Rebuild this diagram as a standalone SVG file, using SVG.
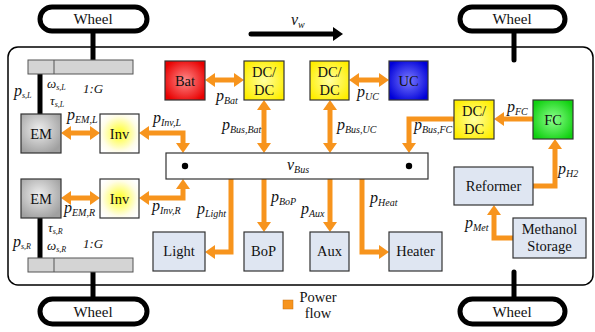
<svg xmlns="http://www.w3.org/2000/svg" width="595" height="332" viewBox="0 0 595 332">
<style>
.box{stroke:#333;stroke-width:1.2}
.lb{fill:#dfe6f2}
.nt{font-family:"Liberation Serif",serif;font-size:14.5px;fill:#111;text-anchor:middle}
.wt{font-family:"Liberation Serif",serif;font-size:15px;fill:#111;text-anchor:middle}
.lab{font-family:"Liberation Serif",serif;font-style:italic;font-size:16px;fill:#111}
.sm{font-family:"Liberation Serif",serif;font-style:italic;font-size:13px;fill:#111}
.sub{font-size:10px}
.sub2{font-size:8px}
.pf{fill:none;stroke:#f7941d;stroke-width:5;stroke-linejoin:miter}
.shaft{stroke:#000;stroke-width:5;fill:none}
.wheel{fill:#fff;stroke:#000;stroke-width:5}
.gear{fill:#d4d4d4;stroke:#555;stroke-width:1}
</style>
<defs>
<marker id="ah" markerUnits="userSpaceOnUse" markerWidth="11" markerHeight="14" refX="0" refY="7" orient="auto-start-reverse" overflow="visible">
<path d="M0,0 L10,7 L0,14 z" fill="#f7941d"/>
</marker>
<marker id="bh" markerUnits="userSpaceOnUse" markerWidth="11" markerHeight="14" refX="0" refY="7" orient="auto" overflow="visible">
<path d="M0,0 L10,7 L0,14 z" fill="#000"/>
</marker>
<radialGradient id="gRed" cx="50%" cy="50%" r="60%"><stop offset="0" stop-color="#ff8a8a"/><stop offset="1" stop-color="#e80000"/></radialGradient>
<radialGradient id="gBlue" cx="50%" cy="50%" r="60%"><stop offset="0" stop-color="#7a7aff"/><stop offset="1" stop-color="#0000d8"/></radialGradient>
<radialGradient id="gGreen" cx="50%" cy="50%" r="60%"><stop offset="0" stop-color="#8cff8c"/><stop offset="1" stop-color="#10d010"/></radialGradient>
<radialGradient id="gDC" cx="50%" cy="50%" r="60%"><stop offset="0" stop-color="#ffffa0"/><stop offset="1" stop-color="#ffee00"/></radialGradient>
<radialGradient id="gInv" cx="50%" cy="50%" r="60%"><stop offset="0" stop-color="#ffff20"/><stop offset="0.75" stop-color="#fffde8"/><stop offset="1" stop-color="#ffffff"/></radialGradient>
<radialGradient id="gEM" cx="45%" cy="40%" r="65%"><stop offset="0" stop-color="#eeeeee"/><stop offset="1" stop-color="#a0a0a0"/></radialGradient>
</defs>

<!-- vehicle body -->
<rect x="8" y="47" width="585" height="238" rx="10" fill="#fff" stroke="#000" stroke-width="1.5"/>

<!-- velocity arrow -->
<g id="velocity">
<line x1="251" y1="34" x2="333" y2="34" stroke="#000" stroke-width="5" stroke-linecap="round" marker-end="url(#bh)"/>
<text class="lab" x="291" y="25">v<tspan class="sub" dy="3">w</tspan></text>
</g>

<!-- mechanical parts -->
<g id="mechanics">
<line class="shaft" x1="93" y1="31" x2="93" y2="60"/>
<line class="shaft" x1="40" y1="74" x2="40" y2="114"/>
<line class="shaft" x1="40" y1="218" x2="40" y2="258"/>
<line class="shaft" x1="93" y1="272" x2="93" y2="299"/>
<line class="shaft" x1="514" y1="31" x2="514" y2="60" stroke-linecap="round"/>
<line class="shaft" x1="514" y1="272" x2="514" y2="299" stroke-linecap="round"/>
<rect class="gear" x="28" y="60" width="105" height="14"/>
<line x1="54" y1="60" x2="54" y2="74" stroke="#555" stroke-width="1"/>
<rect class="gear" x="28" y="258" width="105" height="14"/>
<line x1="54" y1="258" x2="54" y2="272" stroke="#555" stroke-width="1"/>
<text class="sm" x="83" y="93" font-size="15">1:G</text>
<text class="sm" x="83" y="248" font-size="15">1:G</text>
<text class="lab" x="14" y="96" font-size="15">p<tspan class="sub2" dy="2">s,L</tspan></text>
<text class="sm" x="47" y="88">ω<tspan class="sub2" dy="2">s,L</tspan></text>
<text class="sm" x="50" y="105">τ<tspan class="sub2" dy="2">s,L</tspan></text>
<text class="sm" x="48" y="232">τ<tspan class="sub2" dy="2">s,R</tspan></text>
<text class="lab" x="13" y="247" font-size="15">p<tspan class="sub2" dy="2">s,R</tspan></text>
<text class="sm" x="47" y="250">ω<tspan class="sub2" dy="2">s,R</tspan></text>
</g>

<!-- wheels -->
<g id="wheel-fl"><rect class="wheel" x="40" y="7" width="107" height="24" rx="12"/><text class="wt" x="93" y="24">Wheel</text></g>
<g id="wheel-fr"><rect class="wheel" x="460" y="7" width="105" height="24" rx="12"/><text class="wt" x="512" y="24">Wheel</text></g>
<g id="wheel-rl"><rect class="wheel" x="40" y="299" width="107" height="25" rx="12.5"/><text class="wt" x="93" y="317">Wheel</text></g>
<g id="wheel-rr"><rect class="wheel" x="460" y="299" width="105" height="25" rx="12.5"/><text class="wt" x="512" y="317">Wheel</text></g>

<!-- connectors -->
<g id="connectors">
<path class="pf" d="M71,133 H90" marker-start="url(#ah)" marker-end="url(#ah)"/>
<path class="pf" d="M149,133 H183 V143" marker-start="url(#ah)" marker-end="url(#ah)"/>
<path class="pf" d="M71,198 H90" marker-start="url(#ah)" marker-end="url(#ah)"/>
<path class="pf" d="M149,198 H183 V189" marker-start="url(#ah)" marker-end="url(#ah)"/>
<path class="pf" d="M215,80 H234" marker-start="url(#ah)" marker-end="url(#ah)"/>
<path class="pf" d="M359,80 H379" marker-start="url(#ah)" marker-end="url(#ah)"/>
<path class="pf" d="M264,110 V143" marker-start="url(#ah)" marker-end="url(#ah)"/>
<path class="pf" d="M330,110 V143" marker-start="url(#ah)" marker-end="url(#ah)"/>
<path class="pf" d="M533,119 H504" marker-end="url(#ah)"/>
<path class="pf" d="M454,119 H409 V143" marker-end="url(#ah)"/>
<path class="pf" d="M533,186 H555 V149" marker-end="url(#ah)"/>
<path class="pf" d="M513,238 H494 V215" marker-end="url(#ah)"/>
<path class="pf" d="M231,179 V252 H215" marker-end="url(#ah)"/>
<path class="pf" d="M264,179 V222" marker-end="url(#ah)"/>
<path class="pf" d="M330,179 V222" marker-end="url(#ah)"/>
<path class="pf" d="M362,179 V252 H379" marker-end="url(#ah)"/>
<text class="lab" x="67" y="120">p<tspan class="sub" dy="3">EM,L</tspan></text>
<text class="lab" x="153" y="123">p<tspan class="sub" dy="3">Inv,L</tspan></text>
<text class="lab" x="64" y="213">p<tspan class="sub" dy="3">EM,R</tspan></text>
<text class="lab" x="152" y="211">p<tspan class="sub" dy="3">Inv,R</tspan></text>
<text class="lab" x="216" y="101">p<tspan class="sub" dy="3">Bat</tspan></text>
<text class="lab" x="357" y="97">p<tspan class="sub" dy="3">UC</tspan></text>
<text class="lab" x="222" y="130">p<tspan class="sub" dy="3">Bus,Bat</tspan></text>
<text class="lab" x="337" y="130">p<tspan class="sub" dy="3">Bus,UC</tspan></text>
<text class="lab" x="414" y="130">p<tspan class="sub" dy="3">Bus,FC</tspan></text>
<text class="lab" x="507" y="112">p<tspan class="sub" dy="3">FC</tspan></text>
<text class="lab" x="558" y="174">p<tspan class="sub" dy="3">H2</tspan></text>
<text class="lab" x="465" y="228">p<tspan class="sub" dy="3">Met</tspan></text>
<text class="lab" x="197" y="214">p<tspan class="sub" dy="3">Light</tspan></text>
<text class="lab" x="271" y="202">p<tspan class="sub" dy="3">BoP</tspan></text>
<text class="lab" x="301" y="214">p<tspan class="sub" dy="3">Aux</tspan></text>
<text class="lab" x="370" y="203">p<tspan class="sub" dy="3">Heat</tspan></text>
</g>

<!-- nodes -->
<g id="em-l"><rect class="box" x="21" y="114" width="40" height="39" fill="url(#gEM)"/><text class="nt" x="41" y="139">EM</text></g>
<g id="inv-l"><rect class="box" x="100" y="114" width="39" height="39" fill="url(#gInv)"/><text class="nt" x="119.5" y="139">Inv</text></g>
<g id="em-r"><rect class="box" x="21" y="179" width="40" height="39" fill="url(#gEM)"/><text class="nt" x="41" y="204">EM</text></g>
<g id="inv-r"><rect class="box" x="100" y="179" width="39" height="39" fill="url(#gInv)"/><text class="nt" x="119.5" y="204">Inv</text></g>
<g id="bat"><rect class="box" x="165" y="61" width="40" height="39" fill="url(#gRed)"/><text class="nt" x="185" y="86">Bat</text></g>
<g id="dcdc-bat"><rect class="box" x="244" y="61" width="40" height="39" fill="url(#gDC)"/><text class="nt" x="264" y="77">DC/</text><text class="nt" x="264" y="95">DC</text></g>
<g id="dcdc-uc"><rect class="box" x="310" y="61" width="39" height="39" fill="url(#gDC)"/><text class="nt" x="329.5" y="77">DC/</text><text class="nt" x="329.5" y="95">DC</text></g>
<g id="uc"><rect class="box" x="389" y="61" width="39" height="39" fill="url(#gBlue)"/><text class="nt" x="408.5" y="86">UC</text></g>
<g id="dcdc-fc"><rect class="box" x="454" y="100" width="40" height="39" fill="url(#gDC)"/><text class="nt" x="474" y="116">DC/</text><text class="nt" x="474" y="134">DC</text></g>
<g id="fc"><rect class="box" x="533" y="100" width="40" height="39" fill="url(#gGreen)"/><text class="nt" x="553" y="125">FC</text></g>
<g id="bus"><rect class="box" x="166" y="153" width="262" height="26" fill="#fff"/><circle cx="185" cy="166" r="3.2" fill="#000"/><circle cx="409" cy="166" r="3.2" fill="#000"/><text class="lab" x="287" y="170" font-size="15">v<tspan class="sub" dy="3">Bus</tspan></text></g>
<g id="light"><rect class="box lb" x="153" y="232" width="52" height="39"/><text class="nt" x="179" y="256">Light</text></g>
<g id="bop"><rect class="box lb" x="244" y="232" width="39" height="39"/><text class="nt" x="263.5" y="256">BoP</text></g>
<g id="aux"><rect class="box lb" x="310" y="232" width="39" height="39"/><text class="nt" x="329.5" y="256">Aux</text></g>
<g id="heater"><rect class="box lb" x="389" y="232" width="53" height="39"/><text class="nt" x="415.5" y="256">Heater</text></g>
<g id="reformer"><rect class="box lb" x="454" y="167" width="79" height="38"/><text class="nt" x="493.5" y="191">Reformer</text></g>
<g id="methanol"><rect class="box lb" x="513" y="218" width="73" height="40"/><text class="nt" x="549.5" y="234">Methanol</text><text class="nt" x="549.5" y="251">Storage</text></g>

<!-- legend -->
<g id="legend">
<rect x="283" y="300" width="10" height="9" fill="#f7941d" stroke="#c87010" stroke-width="0.5"/>
<text class="nt" x="318" y="302" font-size="14">Power</text>
<text class="nt" x="318" y="318" font-size="14">flow</text>
</g>
</svg>
